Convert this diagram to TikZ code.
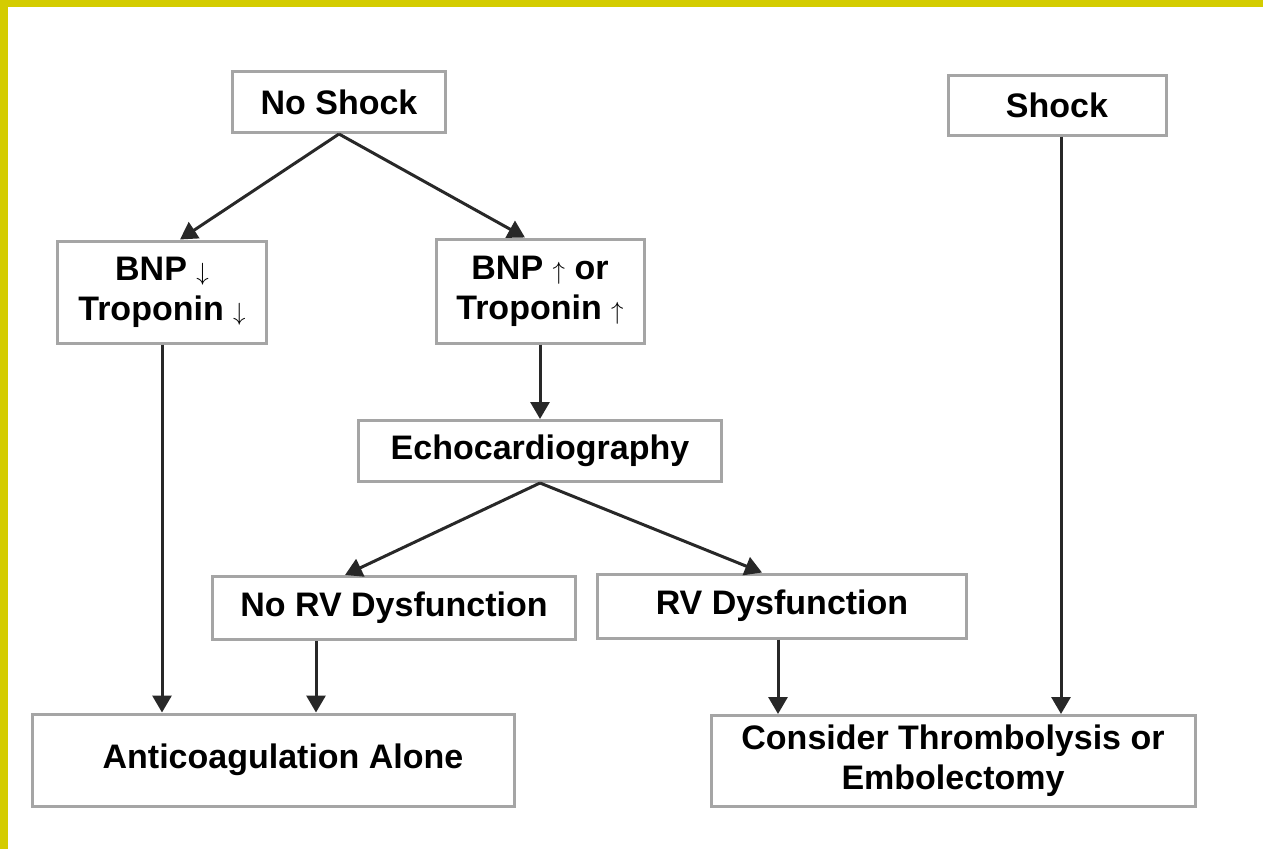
\documentclass[tikz,border=0pt]{standalone}
\usepackage{fontspec}
\setmainfont{Liberation Sans}
\usetikzlibrary{arrows.meta,positioning}
\definecolor{flyellow}{RGB}{212,204,0}
\definecolor{flgray}{RGB}{165,165,165}
\definecolor{fldark}{RGB}{40,40,40}
\tikzset{
  fbox/.style 2 args={draw=flgray, line width=3pt, fill=white, align=center,
                      font=\fontsize{34}{40}\selectfont\bfseries, inner sep=0pt,
                      minimum width=#1, minimum height=#2},
  farrow/.style={draw=fldark, line width=3pt, -{Triangle[length=17pt,width=19pt]}},
}

\begin{document}
\begin{tikzpicture}[x=1pt, y=-1pt]
\useasboundingbox (0,0) rectangle (1263,849);
% Frame strips
\fill[flyellow] (0,0) rectangle (1263,7);
\fill[flyellow] (0,0) rectangle (8,849);

% Top row
\node[fbox={213pt}{61pt}] (noshock) at (339,102) {No Shock};
\node[fbox={218pt}{60pt}] (shock) at (1057,105) {Shock};

% Biomarkers
\node[fbox={209pt}{102pt}] (bnplow) at (162,292) {BNP $\downarrow$\\Troponin $\downarrow$};
\node[fbox={208pt}{104pt}] (bnphigh) at (540,291) {BNP $\uparrow$ or\\Troponin $\uparrow$};

% Echo and its outcomes
\node[fbox={363pt}{61pt}] (echo) at (540,451) {Echocardiography};
\node[fbox={363pt}{63pt}] (norv) at (394,608) {No RV Dysfunction};
\node[fbox={369pt}{64pt}] (rv) at (782,606) {RV Dysfunction};

% Treatment
\node[fbox={482pt}{92pt}] (anticoag) at (273,760) {\hspace*{20pt}Anticoagulation Alone};
\node[fbox={484pt}{91pt}] (thromb) at (953,761) {Consider Thrombolysis or\\Embolectomy};

% Connectors
\draw[farrow] (noshock.south) -- ([xshift=18pt]bnplow.north);
\draw[farrow] (noshock.south) -- ([xshift=-15pt]bnphigh.north);
\draw[farrow] (bnphigh.south) -- (echo.north);
\draw[farrow] (echo.south) -- ([xshift=-49pt]norv.north);
\draw[farrow] (echo.south) -- ([xshift=-20pt]rv.north);
\draw[farrow] (bnplow.south) -- (bnplow.south |- anticoag.north);
\draw[farrow] ([xshift=-78pt]norv.south) -- ([xshift=-78pt]norv.south |- anticoag.north);
\draw[farrow] ([xshift=-4pt]rv.south) -- ([xshift=-4pt]rv.south |- thromb.north);
\draw[farrow] ([xshift=4pt]shock.south) -- ([xshift=4pt]shock.south |- thromb.north);
\end{tikzpicture}
\end{document}
